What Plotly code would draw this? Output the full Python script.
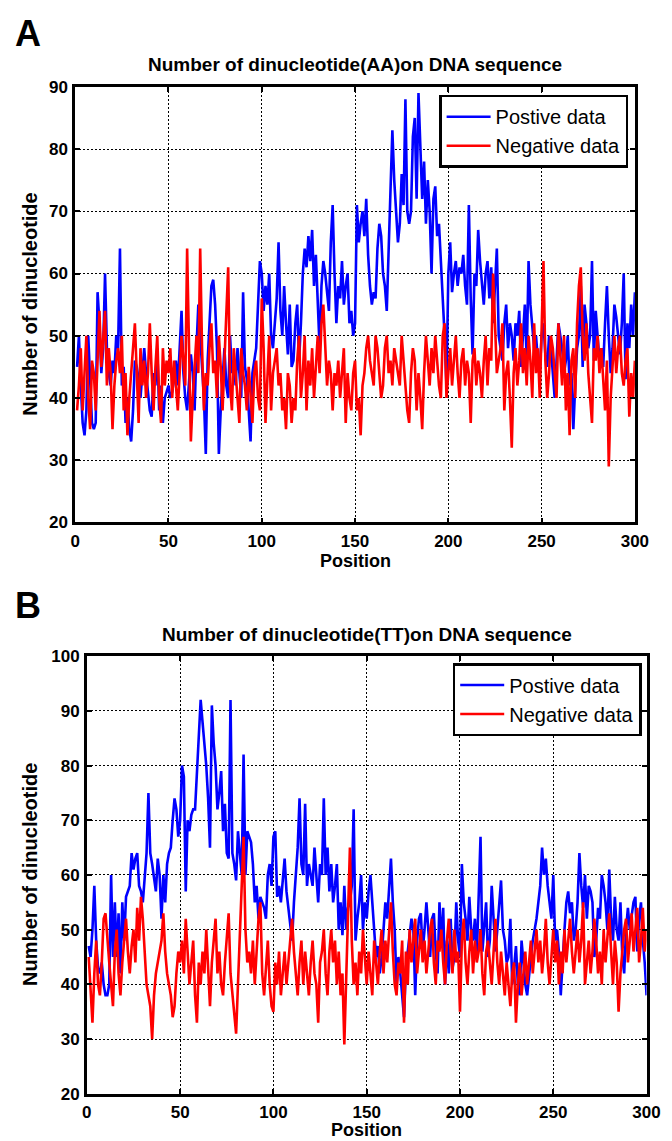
import plotly.graph_objects as go

positions = list(range(1, 301))

aa_positive = [
    45, 50, 42, 36, 34, 38, 50, 44, 36, 35,
    36, 57, 52, 44, 48, 60, 48, 44, 42, 46,
    44, 50, 48, 64, 42, 45, 36, 40, 35, 33,
    38, 46, 45, 43, 40, 44, 48, 44, 41, 38,
    37, 44, 42, 48, 38, 42, 36, 40, 41, 42,
    40, 41, 43, 46, 42, 48, 54, 44, 40, 38,
    42, 47, 44, 38, 48, 55, 50, 44, 40, 31,
    46, 52, 58, 59, 55, 48, 31, 38, 44, 48,
    42, 40, 50, 44, 46, 42, 48, 44, 40, 57,
    45, 43, 38, 33, 44, 46, 48, 55, 62, 60,
    54, 58, 55, 60, 50, 48, 52, 56, 65, 54,
    50, 58, 52, 47, 55, 45, 46, 52, 55, 46,
    52, 60, 64, 61, 66, 62, 67, 58, 63, 56,
    48, 58, 62, 60, 57, 54, 65, 71, 60, 52,
    58, 56, 62, 55, 58, 60, 52, 54, 50, 52,
    71, 65, 68, 70, 66, 72, 63, 58, 55, 57,
    56, 64, 68, 66, 60, 58, 54, 65, 72, 83,
    75, 70, 65, 68, 76, 71, 88, 70, 68, 70,
    82, 85, 72, 89, 79, 72, 78, 68, 75, 70,
    60, 72, 74, 66, 68, 62, 58, 50, 42, 60,
    65, 57, 60, 62, 58, 61, 60, 63, 58, 55,
    71, 56, 47, 60, 58, 67, 62, 58, 55, 60,
    62, 56, 61, 52, 58, 64, 50, 48, 46, 52,
    55, 48, 52, 50, 46, 52, 50, 54, 45, 50,
    55, 46, 62, 55, 52, 48, 50, 46, 44, 50,
    52, 47, 45, 50, 48, 44, 40, 46, 52, 50,
    48, 44, 46, 50, 42, 44, 35, 42, 48, 50,
    58, 45, 55, 52, 48, 50, 62, 46, 54, 50,
    46, 48, 45, 52, 58, 50, 44, 48, 55, 53,
    50, 47, 52, 60, 43, 52, 48, 55, 50, 57,
]

aa_negative = [
    38, 42, 48, 38, 44, 50, 40, 35, 46, 44,
    38, 48, 54, 45, 50, 54, 42, 48, 44, 35,
    42, 46, 48, 44, 50, 38, 44, 34, 40, 44,
    48, 52, 44, 36, 48, 42, 46, 40, 44, 52,
    44, 38, 45, 50, 40, 36, 48, 42, 46, 44,
    48, 40, 46, 42, 38, 44, 50, 46, 42, 64,
    48, 33, 40, 46, 50, 44, 64, 48, 38, 44,
    42, 48, 52, 44, 46, 40, 50, 45, 38, 46,
    55, 61, 42, 38, 48, 44, 40, 36, 48, 44,
    42, 38, 45, 40, 36, 44, 46, 40, 38, 56,
    48, 36, 42, 50, 38, 44, 46, 48, 42, 44,
    38, 40, 35, 44, 42, 36, 40, 38, 46, 50,
    40, 44, 50, 38, 46, 42, 48, 40, 45, 50,
    44, 52, 55, 48, 42, 46, 44, 38, 44, 42,
    46, 40, 44, 48, 36, 44, 40, 38, 44, 46,
    38, 40, 34, 42, 44, 48, 50, 46, 44, 42,
    50, 48, 44, 40, 42, 48, 50, 44, 46, 42,
    48, 46, 44, 42, 50, 46, 42, 38, 36, 44,
    48, 46, 38, 44, 40, 35, 44, 50, 46, 42,
    48, 44, 50, 46, 42, 40, 50, 52, 40, 44,
    48, 42, 46, 50, 44, 40, 46, 48, 42, 46,
    44, 36, 46, 48, 42, 46, 44, 40, 46, 50,
    42, 48, 46, 60, 52, 44, 46, 48, 52, 38,
    44, 46, 40, 32, 44, 48, 42, 46, 52, 44,
    48, 42, 50, 46, 40, 52, 44, 48, 40, 50,
    62, 46, 40, 44, 50, 48, 44, 40, 52, 46,
    42, 50, 38, 44, 34, 46, 48, 40, 52, 58,
    61, 50, 46, 52, 44, 40, 36, 48, 46, 50,
    44, 48, 42, 38, 46, 29, 40, 46, 50, 44,
    48, 50, 44, 42, 46, 48, 37, 44, 40, 46,
]

tt_positive = [
    47, 45, 50, 58, 48, 43, 42, 44, 40, 38,
    38, 40, 60, 45, 55, 45, 53, 42, 55, 48,
    56, 57, 58, 64, 61, 63, 64, 58, 57, 55,
    60, 64, 75, 64, 62, 59, 57, 63, 60, 52,
    60, 55, 62, 64, 65, 70, 74, 72, 67, 70,
    80, 78, 57, 70, 68, 71, 72, 72, 78, 84,
    92, 88, 84, 80, 74, 65, 91, 84, 80, 72,
    75, 79, 68, 73, 64, 63, 92, 64, 62, 59,
    68, 64, 60, 82, 60, 68, 67, 66, 62, 55,
    58, 52, 56, 55, 54, 52, 60, 62, 58, 67,
    68, 56, 58, 55, 60, 63, 57, 54, 52, 48,
    55, 60, 65, 74, 62, 60, 73, 58, 62, 60,
    58, 65, 59, 55, 62, 60, 74, 60, 65, 57,
    62, 55, 58, 62, 50, 55, 49, 58, 50, 54,
    55, 58, 72, 48, 52, 55, 60, 50, 55, 52,
    57, 60, 55, 50, 45, 47, 42, 45, 50, 55,
    52, 58, 63, 55, 50, 40, 45, 42, 38, 34,
    43, 46, 48, 52, 50, 38, 48, 52, 53, 46,
    50, 55, 50, 45, 52, 53, 46, 42, 55, 47,
    54, 40, 48, 42, 52, 43, 45, 55, 48, 45,
    62, 55, 52, 48, 56, 50, 48, 52, 45, 56,
    67, 46, 50, 55, 45, 48, 58, 52, 46, 50,
    55, 59, 50, 48, 44, 45, 52, 40, 43, 47,
    40, 38, 48, 43, 40, 38, 42, 45, 48, 50,
    52, 55, 58, 65, 60, 63, 58, 55, 52, 60,
    48, 50, 46, 38, 45, 50, 55, 57, 53, 55,
    48, 50, 55, 64, 58, 54, 60, 52, 58, 57,
    55, 45, 48, 54, 52, 60, 58, 55, 50, 61,
    52, 48, 56, 50, 48, 55, 45, 42, 50, 54,
    50, 53, 55, 56, 46, 52, 55, 48, 44, 38,
]

tt_negative = [
    45, 38, 33, 42, 48, 40, 38, 44, 52, 53,
    48, 44, 40, 36, 46, 50, 42, 38, 44, 48,
    52, 46, 42, 47, 50, 44, 54, 48, 56, 52,
    46, 40, 38, 36, 30, 38, 42, 44, 46, 48,
    53, 46, 42, 40, 38, 34, 36, 42, 46, 44,
    48, 42, 52, 46, 40, 44, 48, 38, 33, 44,
    40, 46, 42, 50, 44, 36, 44, 48, 52, 42,
    46, 40, 38, 44, 48, 53, 42, 38, 34, 31,
    40, 48, 56, 67, 50, 44, 46, 42, 48, 40,
    46, 52, 55, 42, 38, 44, 48, 40, 36, 35,
    44, 40, 46, 38, 42, 46, 40, 44, 48, 52,
    46, 42, 38, 44, 48, 40, 46, 42, 38, 44,
    48, 42, 40, 33, 44, 46, 50, 42, 38, 46,
    50, 44, 48, 40, 46, 38, 42, 29, 40, 50,
    65, 48, 40, 44, 38, 46, 42, 50, 44, 40,
    46, 42, 38, 48, 44, 40, 46, 50, 42, 48,
    44, 50, 55, 46, 40, 38, 44, 42, 48, 33,
    46, 40, 50, 44, 48, 52, 42, 46, 50, 44,
    48, 42, 46, 50, 52, 44, 40, 48, 46, 50,
    44, 40, 48, 52, 46, 42, 50, 44, 46, 35,
    48, 52, 44, 40, 46, 50, 42, 48, 44, 46,
    50, 42, 38, 46, 48, 44, 40, 46, 52, 44,
    40, 46, 42, 38, 44, 40, 36, 42, 44, 33,
    40, 44, 38, 42, 46, 40, 44, 48, 42, 46,
    50, 44, 48, 42, 46, 52, 44, 40, 46, 50,
    44, 48, 40, 46, 42, 50, 44, 48, 52, 46,
    42, 46, 50, 44, 48, 55, 40, 44, 48, 42,
    46, 52, 48, 42, 46, 40, 50, 44, 48, 53,
    46, 40, 48, 44, 35, 42, 46, 50, 52, 44,
    48, 53, 46, 50, 54, 44, 48, 54, 46, 50,
]

x_ticks = [0, 50, 100, 150, 200, 250, 300]
a_y_ticks = [20, 30, 40, 50, 60, 70, 80, 90]
b_y_ticks = [20, 30, 40, 50, 60, 70, 80, 90, 100]

W, H = 672, 1141
FONT = "Liberation Sans, Arial, Helvetica, sans-serif"
BLUE = "#0000FF"
RED = "#FF0000"

def px(x):
    return x / W

def py(y):
    return 1 - y / H

fig = go.Figure()

fig.add_trace(go.Scatter(x=positions, y=aa_positive, mode="lines", name="Postive data",
                         line=dict(color=BLUE, width=2.6), xaxis="x", yaxis="y", legend="legend"))
fig.add_trace(go.Scatter(x=positions, y=aa_negative, mode="lines", name="Negative data",
                         line=dict(color=RED, width=2.6), xaxis="x", yaxis="y", legend="legend"))
fig.add_trace(go.Scatter(x=positions, y=tt_positive, mode="lines", name="Postive data",
                         line=dict(color=BLUE, width=2.6), xaxis="x2", yaxis="y2", legend="legend2"))
fig.add_trace(go.Scatter(x=positions, y=tt_negative, mode="lines", name="Negative data",
                         line=dict(color=RED, width=2.6), xaxis="x2", yaxis="y2", legend="legend2"))

axis_common = dict(
    showline=True, linecolor="black", linewidth=2.5, mirror="allticks",
    ticks="inside", ticklen=5, tickwidth=1.5, tickcolor="black",
    showgrid=True, gridcolor="black", gridwidth=1.2, griddash="2px,2px",
    zeroline=False, ticklabelstandoff=1,
    tickfont=dict(family=FONT, size=17, color="black", weight="bold"),
)

legend_common = dict(
    xanchor="right", yanchor="top",
    bgcolor="white", bordercolor="black", borderwidth=2.5,
    font=dict(family=FONT, size=20, color="black"),
    tracegroupgap=0, itemwidth=44,
)

fig.update_layout(
    width=W, height=H,
    margin=dict(l=0, r=0, t=0, b=0),
    paper_bgcolor="white", plot_bgcolor="white",
    showlegend=True,
    xaxis=dict(axis_common, domain=[px(64), px(640)], range=[0, 300],
               tickvals=x_ticks, anchor="y"),
    yaxis=dict(axis_common, domain=[py(514), py(71)], range=[20, 90],
               tickvals=a_y_ticks, anchor="x"),
    xaxis2=dict(axis_common, domain=[px(76), px(652)], range=[0, 300],
                tickvals=x_ticks, anchor="y2"),
    yaxis2=dict(axis_common, domain=[py(1095), py(650)], range=[20, 100],
                tickvals=b_y_ticks, anchor="x2"),
    legend=dict(legend_common, x=px(633), y=py(79)),
    legend2=dict(legend_common, x=px(647), y=py(657)),
)

def ann(text, x, y, size, angle=0, weight="bold"):
    fig.add_annotation(text=text, x=px(x), y=py(y), xref="paper", yref="paper",
                       showarrow=False, textangle=angle,
                       font=dict(family=FONT, size=size, color="black", weight=weight),
                       xanchor="center", yanchor="middle")

ann("A", 15, 17, 36)
ann("B", 15, 598, 36)
ann("Number of dinucleotide(AA)on DNA sequence", 352, 48, 19)
ann("Number of dinucleotide(TT)on DNA sequence", 364, 628, 19)
ann("Position", 352, 553, 18)
ann("Position", 364, 1132, 18)
ann("Number of dinucleotide", 18, 292, 20, angle=-90)
ann("Number of dinucleotide", 18, 872, 20, angle=-90)

fig.write_html("out.html")
